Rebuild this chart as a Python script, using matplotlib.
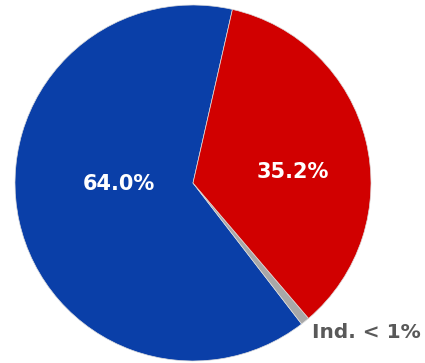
import matplotlib
matplotlib.use("Agg")
import matplotlib.pyplot as plt

# slice data (counter-clockwise from start angle)
labels  = ["Dem.", "Ind. < 1%", "Rep."]
shares  = [64.0, 0.8, 35.2]
colors  = ["#0A3FA8", "#A8A8A8", "#D10000"]
pct_txt = ["64.0%", "", "35.2%"]

W, H = 425, 363
cx, cy, r = 193, 180, 178

fig = plt.figure(figsize=(W / 100, H / 100), dpi=100)
ax = fig.add_axes([0, 0, 1, 1])

wedges, _ = ax.pie(shares, colors=colors, startangle=77.2, center=(cx, cy),
                   radius=r, wedgeprops=dict(linewidth=0.5, edgecolor="#dddddd"),
                   frame=True)
ax.set_xlim(0, W)
ax.set_ylim(0, H)
ax.set_aspect("equal")
ax.axis("off")

# percentage labels, offset from pie centre
offsets = [(-74, -1), None, (100, 11)]
for txt, off in zip(pct_txt, offsets):
    if off is None:
        continue
    ax.text(cx + off[0], cy + off[1], txt, color="white", fontsize=15,
            fontweight="bold", ha="center", va="center")

ax.text(366, 30, labels[1], color="#595959", fontsize=14.5,
        fontweight="bold", ha="center", va="center")

fig.savefig("out.png", dpi=100)
